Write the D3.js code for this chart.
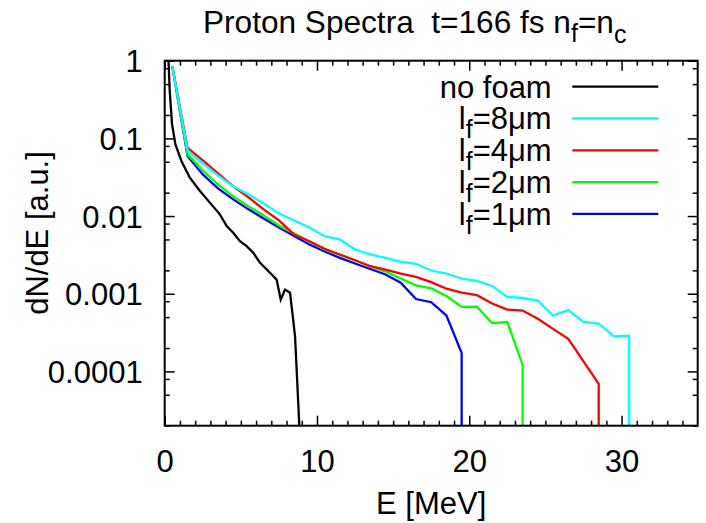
<!DOCTYPE html>
<html>
<head>
<meta charset="utf-8">
<script src="https://cdn.jsdelivr.net/npm/d3@7"></script>
<style>
  body { margin: 0; background: #fff; }
  svg text { font-family: "Liberation Sans", Arial, sans-serif; font-size: 31px; fill: #000; white-space: pre; }
</style>
</head>
<body>
<script>
// proton spectra, 1 MeV bins for the foam runs
var energies = [0.5, 1.5, 2.5, 3.5, 4.5, 5.5, 6.5, 7.5, 8.5, 9.5, 10.5, 11.5, 12.5, 13.5, 14.5, 15.5,
  16.5, 17.5, 18.5, 19.5, 20.5, 21.5, 22.5, 23.5, 24.5, 25.5, 26.5, 27.5, 28.5, 29.5, 30.5];

var lf8 = [0.85, 0.070, 0.0476, 0.0334, 0.0241, 0.0190, 0.0145, 0.0108, 0.00878, 0.00713, 0.00551,
  0.00500, 0.00371, 0.00320, 0.00290, 0.00258, 0.00243, 0.00199, 0.00182, 0.00157, 0.00146, 0.00126,
  0.000912, 0.000881, 0.000818, 0.000524, 0.000616, 0.000434, 0.000411, 0.000283, 0.000289];
var lf4 = [0.85, 0.0755, 0.0521, 0.0354, 0.0241, 0.0174, 0.0122, 0.00878, 0.00579, 0.00475, 0.00379,
  0.00320, 0.00270, 0.00226, 0.00205, 0.00182, 0.00165, 0.00141, 0.00116, 0.00103, 0.000957, 0.000748,
  0.000626, 0.000608, 0.000475, 0.000353, 0.000262, 0.000135, 0.000069];
var lf2 = [0.85, 0.0622, 0.0387, 0.0255, 0.0179, 0.0133, 0.0102, 0.00757, 0.00597, 0.00471, 0.00371,
  0.00315, 0.00270, 0.00226, 0.00193, 0.00157, 0.00128, 0.00117, 0.000934, 0.000678, 0.000680,
  0.000419, 0.000432, 0.000121];
var lf1 = [0.85, 0.0595, 0.0344, 0.0227, 0.0164, 0.0122, 0.00931, 0.00713, 0.00554, 0.00431, 0.00350,
  0.00290, 0.00245, 0.00208, 0.00177, 0.00139, 0.000855, 0.000777, 0.000524, 0.000173];

// no foam run has finer binning
var noFoamE = [0.25, 0.33, 0.48, 0.70, 1.09, 1.64, 2.30, 2.95, 3.61, 4.07, 4.50, 4.94, 5.38, 5.82,
  6.26, 6.91, 7.35, 7.62, 7.90, 8.23, 8.56, 8.84];
var noFoamV = [1.0, 0.41, 0.153, 0.0845, 0.0516, 0.0314, 0.0212, 0.0150, 0.0106, 0.00741, 0.00609,
  0.00475, 0.00410, 0.00336, 0.00250, 0.00186, 0.00152, 0.00084, 0.00113, 0.00103, 0.000283, 0.00002];

var legendLabels = ["no foam", "8", "4", "2", "1"];
var legendColors = ["#000000", "#00ffff", "#ff0000", "#00ff00", "#0000ff"];

var xMajor = [0, 10, 20, 30];
var xMinor = [1, 2, 3, 4, 5, 6, 7, 8, 9, 11, 12, 13, 14, 15, 16, 17, 18, 19, 21, 22, 23, 24, 25, 26,
  27, 28, 29, 31, 32, 33, 34];
var yMajor = [1, 0.1, 0.01, 0.001, 0.0001];
var yMinor = [0.8, 0.5, 0.2, 0.08, 0.05, 0.02, 0.008, 0.005, 0.002, 0.0008, 0.0005, 0.0002,
  0.00008, 0.00005, 0.00002];

const W = 706, H = 523;
const margin = {top: 60.7, right: 8.3, bottom: 97.3, left: 164.7};
var width = W - margin.left - margin.right,
    height = H - margin.top - margin.bottom;

var root = d3.select("body").append("svg")
  .attr("width", W)
  .attr("height", H);

var svg = root.append("g")
  .attr("transform", "translate(" + margin.left + "," + margin.top + ")");

var x = d3.scaleLinear().domain([0, 35]).range([0, width]);
var y = d3.scaleLog().domain([0.00002, 1]).range([height, 0]);

svg.append("clipPath").attr("id", "plotClip")
  .append("rect").attr("width", width).attr("height", height);

// ticks point inwards on all four sides
function drawAxis(axisFn, vals, size, offset, labels) {
  var a = axisFn.tickValues(vals).tickSizeInner(-size).tickSizeOuter(0);
  if (labels) a.tickPadding(22).tickFormat(function(d) { return String(d); });
  else a.tickFormat("");
  var g = svg.append("g").attr("transform", offset).call(a);
  g.select(".domain").remove();
  g.selectAll("line").attr("stroke", "#000").attr("stroke-width", 1.5);
  g.selectAll("text").attr("font-size", null).attr("font-family", null);
  return g;
}

drawAxis(d3.axisBottom(x), xMinor, 5, "translate(0," + height + ")", false);
drawAxis(d3.axisBottom(x), xMajor, 10, "translate(0," + height + ")", true)
  .selectAll("text").attr("dy", null).attr("y", 46);
drawAxis(d3.axisTop(x), xMinor, 5, "translate(0,0)", false);
drawAxis(d3.axisTop(x), xMajor, 10, "translate(0,0)", false);
drawAxis(d3.axisLeft(y), yMinor, 5, "translate(0,0)", false);
drawAxis(d3.axisLeft(y), yMajor, 10, "translate(0,0)", true)
  .selectAll("text").attr("dy", "0.36em");
drawAxis(d3.axisRight(y), yMinor, 5, "translate(" + width + ",0)", false);
drawAxis(d3.axisRight(y), yMajor, 10, "translate(" + width + ",0)", false);

var line = d3.line()
  .x(function(d) { return x(d[0]); })
  .y(function(d) { return y(d[1]); });

function foamPoints(vals) {
  var pts = vals.map(function(v, i) { return [energies[i], v]; });
  // spectrum cut-off: drop to the bottom of the axis
  pts.push([energies[vals.length - 1], y.domain()[0]]);
  return pts;
}

var curves = [
  {pts: noFoamE.map(function(e, i) { return [e, noFoamV[i]]; }), color: legendColors[0]},
  {pts: foamPoints(lf8), color: legendColors[1]},
  {pts: foamPoints(lf4), color: legendColors[2]},
  {pts: foamPoints(lf2), color: legendColors[3]},
  {pts: foamPoints(lf1), color: legendColors[4]}
];

var plot = svg.append("g").attr("clip-path", "url(#plotClip)");
// thinnest foam first, black on top
[4, 3, 2, 1, 0].forEach(function(i) {
  plot.append("path")
    .attr("d", line(curves[i].pts))
    .attr("fill", "none")
    .attr("stroke", curves[i].color)
    .attr("stroke-width", 2.3)
    .attr("stroke-linejoin", "miter");
});

// frame
svg.append("rect")
  .attr("width", width)
  .attr("height", height)
  .attr("fill", "none")
  .attr("stroke", "#000")
  .attr("stroke-width", 2);

// legend
var legend = svg.append("g").attr("transform", "translate(" + (551.7 - margin.left) + ",0)");
legendLabels.forEach(function(lab, i) {
  var ly = 26 + i * 31.8;
  var t = legend.append("text")
    .attr("x", 0)
    .attr("y", ly + 11)
    .attr("text-anchor", "end");
  if (i == 0) {
    t.text(lab);
  } else {
    t.append("tspan").text("l");
    t.append("tspan").attr("dy", 9).attr("font-size", 25).text("f");
    t.append("tspan").attr("dy", -9).text("=" + lab + "\u03bcm");
  }
  legend.append("line")
    .attr("x1", 572.3 - 551.7)
    .attr("x2", 658.3 - 551.7)
    .attr("y1", ly)
    .attr("y2", ly)
    .attr("stroke", legendColors[i])
    .attr("stroke-width", 2.3);
});

// title
var title = root.append("text").attr("x", 203).attr("y", 33).style("font-size", "31.6px");
title.append("tspan").text("Proton Spectra  t=166 fs n");
title.append("tspan").attr("dy", 9).attr("font-size", 25).text("f");
title.append("tspan").attr("dy", -9).text("=n");
title.append("tspan").attr("dy", 10).attr("font-size", 25).text("c");

// axis labels
root.append("text")
  .attr("x", margin.left + width / 2)
  .attr("y", 514)
  .attr("text-anchor", "middle")
  .text("E [MeV]");

root.append("text")
  .attr("transform", "translate(48,233)rotate(-90)")
  .attr("text-anchor", "middle")
  .text("dN/dE [a.u.]");
</script>
</body>
</html>
